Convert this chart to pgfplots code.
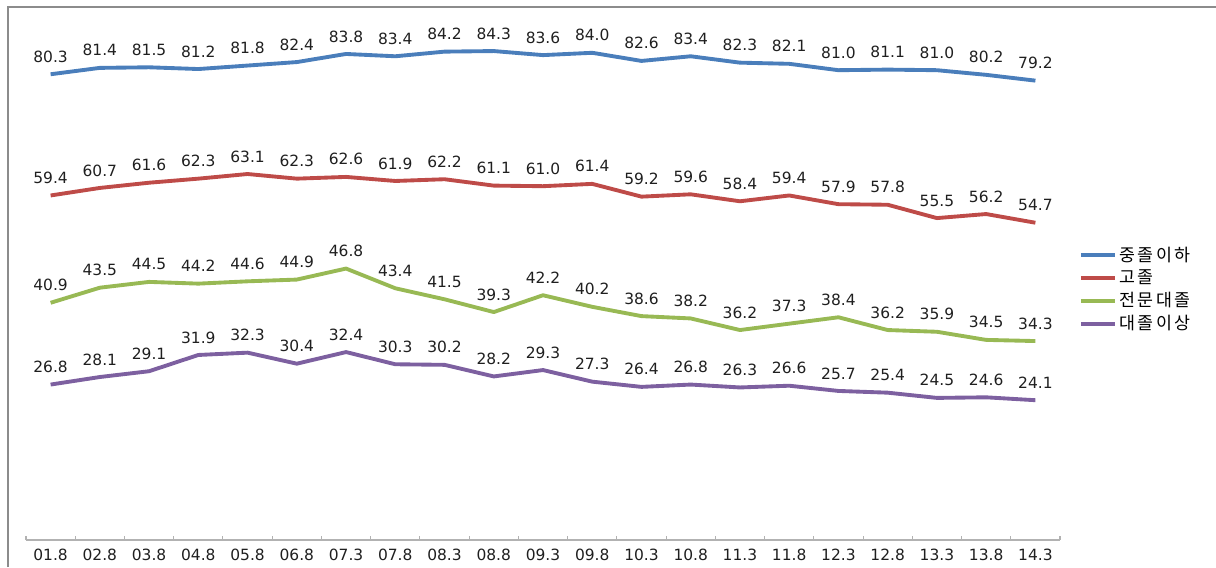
\documentclass[border=0pt]{standalone}
\usepackage{pgfplots}
\pgfplotsset{compat=1.18}
\usepackage{fontspec}
\setmainfont{DejaVu Sans}
\newfontfamily\kr[LetterSpace=12]{Noto Sans CJK KR}
\definecolor{cblue}{HTML}{4A7EBB}
\definecolor{cred}{HTML}{BE4B48}
\definecolor{cgreen}{HTML}{98B954}
\definecolor{cpurple}{HTML}{7D60A0}
\definecolor{frame}{HTML}{8C8C8C}
\pgfplotstableread{
x blue red green purple
0 80.3 59.4 40.9 26.8
1 81.4 60.7 43.5 28.1
2 81.5 61.6 44.5 29.1
3 81.2 62.3 44.2 31.9
4 81.8 63.1 44.6 32.3
5 82.4 62.3 44.9 30.4
6 83.8 62.6 46.8 32.4
7 83.4 61.9 43.4 30.3
8 84.2 62.2 41.5 30.2
9 84.3 61.1 39.3 28.2
10 83.6 61.0 42.2 29.3
11 84.0 61.4 40.2 27.3
12 82.6 59.2 38.6 26.4
13 83.4 59.6 38.2 26.8
14 82.3 58.4 36.2 26.3
15 82.1 59.4 37.3 26.6
16 81.0 57.9 38.4 25.7
17 81.1 57.8 36.2 25.4
18 81.0 55.5 35.9 24.5
19 80.2 56.2 34.5 24.6
20 79.2 54.7 34.3 24.1
}\datatable
\begin{document}
\begin{tikzpicture}[x=0.75pt,y=0.75pt]
\path[use as bounding box] (0,0) rectangle (1216,567);
\draw[frame, line width=1.1pt] (8,0) -- (8,560) -- (1216,560);
\begin{axis}[
  at={(19.5pt,20.25pt)}, anchor=south west,
  scale only axis, width=775.5pt, height=391.5pt,
  xmin=-0.5, xmax=20.5, ymin=0, ymax=90,
  axis x line=bottom, axis y line=none,
  x axis line style={draw=gray!60, -, line width=0.8pt},
  xtick={0,...,20},
  xticklabels={01.8,02.8,03.8,04.8,05.8,06.8,07.3,07.8,08.3,08.8,09.3,09.8,10.3,10.8,11.3,11.8,12.3,12.8,13.3,13.8,14.3},
  major tick length=0pt,
  minor xtick={-0.5,0.5,...,20.5},
  minor tick length=3pt,
  tick align=inside,
  minor tick style={draw=gray!60, line width=0.8pt},
  xticklabel style={font=\fontsize{11.6}{13}\selectfont, text=black!88, yshift=-3.5pt},
  /pgf/number format/assume math mode=true,
  nodes near coords={\pgfmathprintnumber[fixed,fixed zerofill,precision=1]{\pgfplotspointmeta}},
  every node near coord/.append style={font=\fontsize{11.6}{13}\selectfont, text=black!88, yshift=4pt},
  clip=false,
  legend style={at={(rel axis cs:1.018,0.48)}, anchor=west, draw=none, fill=none,
    font=\kr\fontsize{13}{15}\selectfont, row sep=1pt, inner sep=0pt},
  legend cell align=left,
  legend image code/.code={\draw[#1, line width=2.8pt] (0,0) -- (26pt,0);},
  every axis plot/.append style={line width=2.9pt, line join=round, no markers},
]
\addplot[cblue] table[x=x,y=blue] {\datatable};
\addplot[cred] table[x=x,y=red] {\datatable};
\addplot[cgreen] table[x=x,y=green] {\datatable};
\addplot[cpurple] table[x=x,y=purple] {\datatable};
\legend{중졸이하,고졸,전문대졸,대졸이상}
\end{axis}
\end{tikzpicture}
\end{document}
